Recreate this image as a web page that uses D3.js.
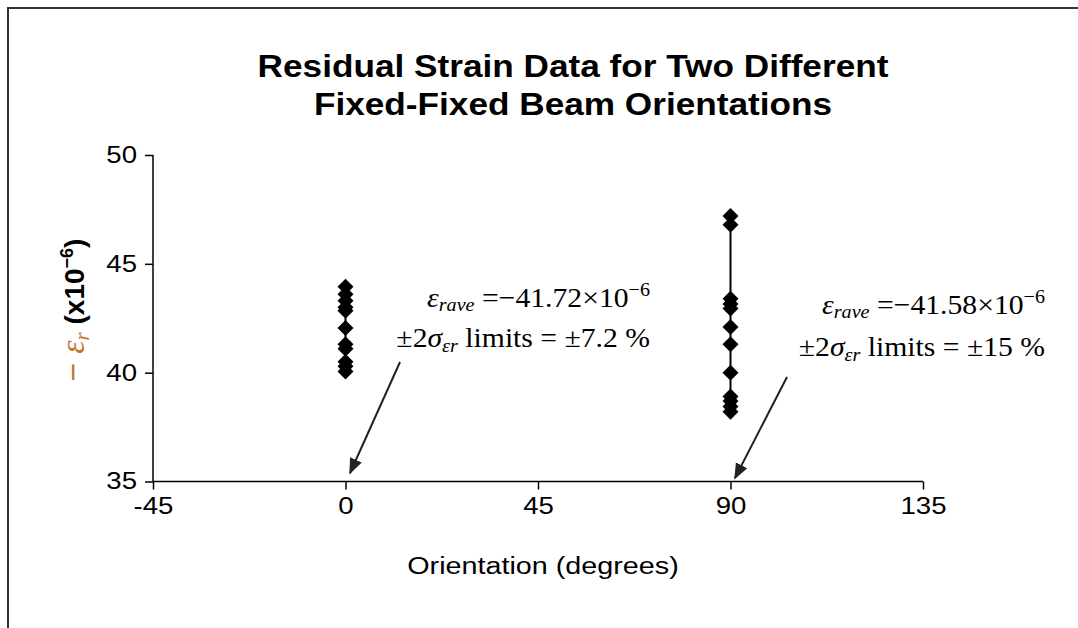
<!DOCTYPE html>
<html><head><meta charset="utf-8">
<script src="https://cdn.jsdelivr.net/npm/d3@7"></script>
<style>body{margin:0;background:#fff}svg{display:block}</style>
</head><body>
<svg id="c" width="1078" height="628"></svg>
<script>
const orientation0 = 0;
const values0 = [43.95, 43.6, 43.3, 43.0, 42.85, 42.05, 41.3, 41.1, 40.5, 40.3, 40.05];
const orientation90 = 90;
const values90 = [47.2, 46.8, 43.4, 43.15, 42.95, 42.1, 41.3, 40.0, 38.9, 38.7, 38.45, 38.2];
const xTicks = [-45, 0, 45, 90, 135];
const yTicks = [35, 40, 45, 50];
const titleLines = ["Residual Strain Data for Two Different", "Fixed-Fixed Beam Orientations"];
const annotations = [
  {x: 0, mean: "41.72", limits: "±7.2 %"},
  {x: 90, mean: "41.58", limits: "±15 %"}
];

const svg = d3.select("#c");
svg.append("path").attr("d","M8,640 L8,8 L1090,8").attr("fill","none").attr("stroke","#333").attr("stroke-width",2);

const x = d3.scaleLinear().domain([-45,135]).range([153,923]);
const y = d3.scaleLinear().domain([35,50]).range([481.5,155]);
const SANS = "Liberation Sans, Arial";
const SERIF = "Liberation Serif, Times New Roman";

// title
const cx = 573, sx = 1.1;
svg.append("g").attr("transform",`translate(${cx},0) scale(${sx},1)`)
  .append("text").attr("text-anchor","middle")
  .attr("font-family",SANS).attr("font-weight","bold").attr("font-size",32).attr("fill","#000")
  .selectAll("tspan").data(titleLines).join("tspan").attr("x",0).attr("y",(d,i)=>77+i*38).text(d=>d);

// axes
const xAxis = d3.axisBottom(x).tickValues(xTicks).tickSize(8).tickPadding(8).tickFormat(d=>String(d));
const yAxis = d3.axisLeft(y).tickValues(yTicks).tickSize(8).tickPadding(6);
const gx = svg.append("g").attr("transform",`translate(0,${y(35)})`).call(xAxis);
const gy = svg.append("g").attr("transform",`translate(${x(-45)},0)`).call(yAxis);
[gx,gy].forEach(g=>{
  g.select(".domain").attr("stroke","#000").attr("stroke-width",1.5);
  g.selectAll(".tick line").attr("stroke","#000").attr("stroke-width",1.5);
  g.selectAll(".tick text").attr("font-family",SANS).attr("font-size",23).attr("fill","#000")
    .attr("transform","scale(1.2,1)");
});
gy.selectAll(".tick text").attr("x",-16/1.2);
gx.select(".domain").attr("d",`M${x(-45)},0H${x(135)}`);
gy.select(".domain").attr("d",`M0,${y(35)}V${y(50)}`);

// axis titles
svg.append("g").attr("transform","translate(543,574) scale(1.25,1)")
  .append("text").attr("text-anchor","middle")
  .attr("font-family",SANS).attr("font-size",23).attr("fill","#000").text("Orientation (degrees)");

const yl = svg.append("text").attr("transform","translate(84,310) rotate(-90)").attr("text-anchor","middle")
  .attr("font-family",SANS).attr("font-weight","bold").attr("font-size",28).attr("fill","#000");
yl.append("tspan").attr("fill","#c0782a").attr("font-weight","normal").attr("font-size",32).text("− ");
yl.append("tspan").attr("fill","#c0782a").attr("font-style","italic").attr("font-family",SERIF).attr("font-weight","normal").attr("font-size",34).text("ε");
yl.append("tspan").attr("fill","#c0782a").attr("font-style","italic").attr("font-family",SERIF).attr("font-weight","normal").attr("font-size",21).attr("dy",5).text("r");
yl.append("tspan").attr("dy",-5).text(" (x10");
yl.append("tspan").attr("font-size",18).attr("dy",-11).text("−6");
yl.append("tspan").attr("dy",11).text(")");

// series
const diamond = "M0,-8 L8,0 L0,8 L-8,0 Z";
function series(xv, vals){
  const g = svg.append("g");
  g.append("path").datum(vals).attr("fill","none").attr("stroke","#000").attr("stroke-width",2)
    .attr("d", d3.line().x(()=>x(xv)).y(d=>y(d)));
  g.selectAll("path.m").data(vals).join("path").attr("class","m").attr("d",diamond)
    .attr("transform",d=>`translate(${x(xv)},${y(d)})`).attr("fill","#000");
}
series(orientation0, values0);
series(orientation90, values90);

// annotations
svg.append("defs").append("marker").attr("id","ah").attr("viewBox","0 0 10 10").attr("refX",9).attr("refY",5)
  .attr("markerUnits","userSpaceOnUse").attr("orient","auto")
  .attr("markerWidth",16).attr("markerHeight",16)
  .append("path").attr("d","M0,1 L10,5 L0,9 Z").attr("fill","#222");

const annPos = [
  {endX: 650, y1: 307, y2: 347, ax1: 400, ay1: 362, ax2: 350, ay2: 473},
  {endX: 1045, y1: 314, y2: 356, ax1: 787, ay1: 377, ax2: 735, ay2: 478}
];
annotations.forEach((a,i)=>{
  const p = annPos[i];
  const g = svg.append("g").attr("transform",`translate(${p.endX},0) scale(1.06,1)`);
  const t1 = g.append("text").attr("x",0).attr("y",p.y1).attr("text-anchor","end")
    .attr("font-family",SERIF).attr("font-size",28).attr("fill","#000");
  t1.append("tspan").attr("font-style","italic").text("ε");
  t1.append("tspan").attr("font-style","italic").attr("font-size",19).attr("dy",4).text("rave");
  t1.append("tspan").attr("dy",-4).text(" =−" + a.mean + "×10");
  t1.append("tspan").attr("font-size",19).attr("dy",-11).text("−6");
  const t2 = g.append("text").attr("x",0).attr("y",p.y2).attr("text-anchor","end")
    .attr("font-family",SERIF).attr("font-size",28).attr("fill","#000");
  t2.append("tspan").text("±2");
  t2.append("tspan").attr("font-style","italic").text("σ");
  t2.append("tspan").attr("font-style","italic").attr("font-size",19).attr("dy",5).text("εr");
  t2.append("tspan").attr("dy",-5).text(" limits = " + a.limits);
  svg.append("line").attr("x1",p.ax1).attr("y1",p.ay1).attr("x2",p.ax2).attr("y2",p.ay2)
    .attr("stroke","#222").attr("stroke-width",2).attr("marker-end","url(#ah)");
});
</script>
</body></html>
